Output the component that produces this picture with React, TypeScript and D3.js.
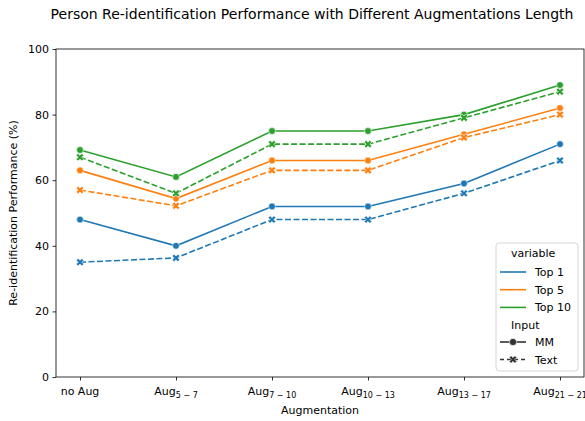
import { useEffect, useRef } from 'react';
import * as d3 from 'd3';

// x categories: base text + subscript range
const categories = [
  { base: 'no Aug', sub: '' },
  { base: 'Aug', sub: '5 − 7' },
  { base: 'Aug', sub: '7 − 10' },
  { base: 'Aug', sub: '10 − 13' },
  { base: 'Aug', sub: '13 − 17' },
  { base: 'Aug', sub: '21 − 21' },
];

const top1MM = [48, 40, 52, 52, 59, 71];
const top1Text = [35, 36.3, 48, 48, 56, 66];
const top5MM = [63, 54.4, 66, 66, 74, 82];
const top5Text = [57, 52.2, 63, 63, 73, 80];
const top10MM = [69.2, 61, 75, 75, 80, 89];
const top10Text = [67, 56, 71, 71, 79, 87];

const yTicks = [0, 20, 40, 60, 80, 100];
const variables = ['Top 1', 'Top 5', 'Top 10'];
const inputs = ['MM', 'Text'];
const colors = ['#1f77b4', '#ff7f0e', '#2ca02c'];

const series = [
  { variable: 'Top 1', input: 'MM', values: top1MM },
  { variable: 'Top 1', input: 'Text', values: top1Text },
  { variable: 'Top 5', input: 'MM', values: top5MM },
  { variable: 'Top 5', input: 'Text', values: top5Text },
  { variable: 'Top 10', input: 'MM', values: top10MM },
  { variable: 'Top 10', input: 'Text', values: top10Text },
];

const FONT = 'DejaVu Sans, sans-serif';
const FS = 11;

function App() {
  const svgRef = useRef<SVGSVGElement>(null);

  useEffect(() => {
    const width = 585;
    const height = 421;
    const margin = { left: 56, right: 1, top: 49, bottom: 44 };

    d3.select(svgRef.current).selectAll('*').remove();
    const svg = d3.select(svgRef.current)
      .attr('width', width)
      .attr('height', height)
      .style('font-family', FONT);

    // seaborn pads categorical line plots by 5% of the span on each side
    const n = categories.length;
    const x = d3.scaleLinear()
      .domain([-0.25, n - 1 + 0.25])
      .range([margin.left, width - margin.right]);
    const y = d3.scaleLinear()
      .domain([0, 100])
      .range([height - margin.bottom, margin.top]);

    const color = d3.scaleOrdinal<string, string>().domain(variables).range(colors);

    // title
    svg.append('text')
      .attr('x', 312)
      .attr('y', 19)
      .attr('text-anchor', 'middle')
      .attr('font-size', 14)
      .attr('fill', '#000')
      .text('Person Re-identification Performance with Different Augmentations Length');

    // y axis
    const yAxis = svg.append('g')
      .attr('transform', `translate(${margin.left},0)`)
      .call(d3.axisLeft(y).tickValues(yTicks).tickSize(3.5).tickPadding(3.5));
    yAxis.select('.domain').remove();
    yAxis.selectAll('text').attr('font-size', FS).attr('font-family', FONT).attr('fill', '#000');
    yAxis.selectAll('line').attr('stroke', '#000').attr('stroke-width', 0.8);

    // x axis with mathtext-style subscripts
    const xAxis = svg.append('g')
      .attr('transform', `translate(0,${height - margin.bottom})`)
      .call(d3.axisBottom(x).tickValues(d3.range(n)).tickSize(3.5).tickFormat(() => ''));
    xAxis.select('.domain').remove();
    xAxis.selectAll('line').attr('stroke', '#000').attr('stroke-width', 0.8);

    categories.forEach((c, i) => {
      const t = svg.append('text')
        .attr('x', x(i))
        .attr('y', height - margin.bottom + 18)
        .attr('text-anchor', 'middle')
        .attr('font-size', FS)
        .attr('fill', '#000');
      t.append('tspan').text(c.base);
      if (c.sub) {
        t.append('tspan').attr('font-size', 8).attr('dy', 2.5).text(c.sub);
      }
    });

    svg.append('text')
      .attr('x', (margin.left + width - margin.right) / 2)
      .attr('y', 414)
      .attr('text-anchor', 'middle')
      .attr('font-size', FS)
      .attr('fill', '#000')
      .text('Augmentation');

    svg.append('text')
      .attr('transform', `translate(17,${(margin.top + height - margin.bottom) / 2}) rotate(-90)`)
      .attr('text-anchor', 'middle')
      .attr('font-size', FS)
      .attr('fill', '#000')
      .text('Re-identification Performance (%)');

    // lines
    const line = d3.line<number>()
      .x((_, i) => x(i))
      .y(d => y(d));

    const xSymbol = d3.symbol().type(d3.symbolCross).size(36);

    series.forEach(s => {
      svg.append('path')
        .datum(s.values)
        .attr('d', line)
        .attr('fill', 'none')
        .attr('stroke', color(s.variable))
        .attr('stroke-width', 1.6)
        .attr('stroke-dasharray', s.input === 'Text' ? '6,2.5' : null);

      if (s.input === 'MM') {
        svg.selectAll(null)
          .data(s.values)
          .join('circle')
          .attr('cx', (_, i) => x(i))
          .attr('cy', d => y(d))
          .attr('r', 3.4)
          .attr('fill', color(s.variable))
          .attr('stroke', '#fff')
          .attr('stroke-width', 0.6);
      } else {
        svg.selectAll(null)
          .data(s.values)
          .join('path')
          .attr('d', xSymbol)
          .attr('transform', (d, i) => `translate(${x(i)},${y(d)}) rotate(45)`)
          .attr('fill', color(s.variable))
          .attr('stroke', '#fff')
          .attr('stroke-width', 0.6);
      }
    });

    // frame
    svg.append('rect')
      .attr('x', margin.left)
      .attr('y', margin.top)
      .attr('width', width - margin.right - margin.left)
      .attr('height', height - margin.bottom - margin.top)
      .attr('fill', 'none')
      .attr('stroke', '#000')
      .attr('stroke-width', 0.8);

    // legend
    const lg = svg.append('g').attr('transform', 'translate(496,243)');
    lg.append('rect')
      .attr('x', 0).attr('y', 0)
      .attr('width', 82).attr('height', 128)
      .attr('rx', 3)
      .attr('fill', '#fff').attr('fill-opacity', 0.8)
      .attr('stroke', '#ccc').attr('stroke-width', 0.8);

    const label = (tx: number, ty: number, s: string) =>
      lg.append('text').attr('x', tx).attr('y', ty).attr('font-size', FS).attr('fill', '#000').text(s);

    label(15, 14, 'variable');
    variables.forEach((v, i) => {
      const cy = 29 + i * 17.7;
      lg.append('line')
        .attr('x1', 4).attr('x2', 30).attr('y1', cy).attr('y2', cy)
        .attr('stroke', color(v)).attr('stroke-width', 1.6);
      label(39, cy + 4, v);
    });
    label(15, 86, 'Input');
    inputs.forEach((v, i) => {
      const cy = 99 + i * 17.5;
      lg.append('line')
        .attr('x1', 4).attr('x2', 30).attr('y1', cy).attr('y2', cy)
        .attr('stroke', '#333').attr('stroke-width', 1.6)
        .attr('stroke-dasharray', v === 'Text' ? '4,3' : null);
      if (v === 'MM') {
        lg.append('circle').attr('cx', 17).attr('cy', cy).attr('r', 3.6)
          .attr('fill', '#333').attr('stroke', '#fff').attr('stroke-width', 0.6);
      } else {
        lg.append('path').attr('d', xSymbol)
          .attr('transform', `translate(17,${cy}) rotate(45)`)
          .attr('fill', '#333').attr('stroke', '#fff').attr('stroke-width', 0.6);
      }
      label(39, cy + 4, v);
    });
  }, []);

  return <svg ref={svgRef} style={{ position: 'absolute', left: 0, top: 0 }} />;
}

export default App;
